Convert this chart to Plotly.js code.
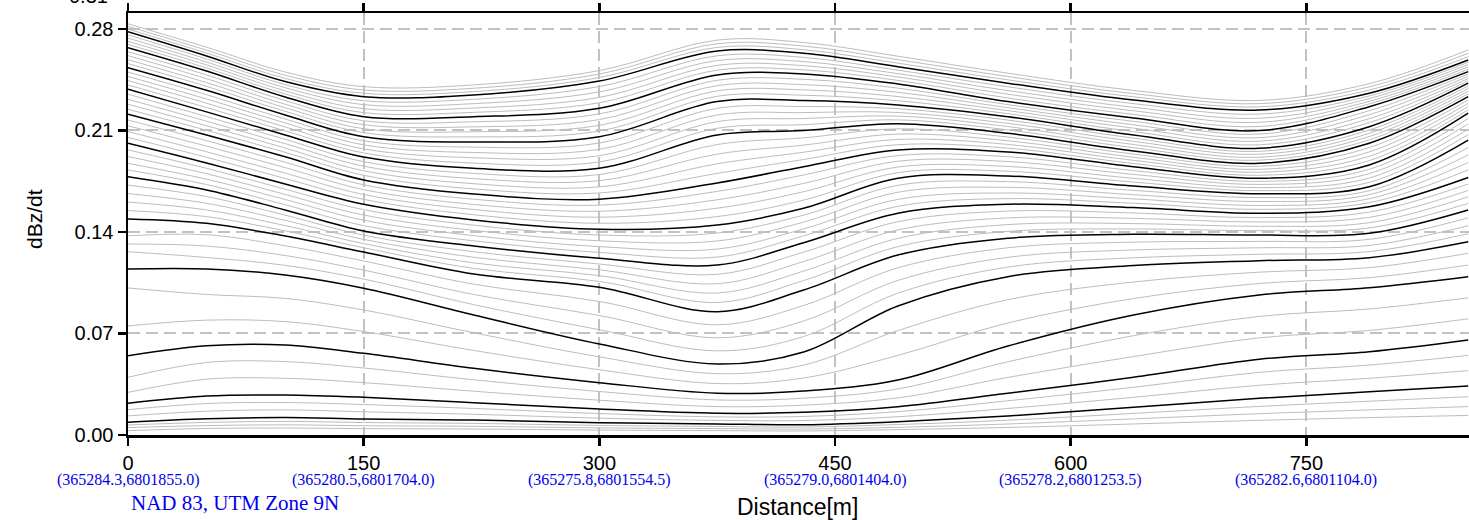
<!DOCTYPE html>
<html><head><meta charset="utf-8">
<script src="https://cdn.plot.ly/plotly-3.0.1.min.js"></script>
<style>html,body{margin:0;padding:0;background:#fff;} #chart{width:1469px;height:520px;}</style>
</head><body><div id="chart"></div>
<script>
// distance along the line [m]
const distance = [0, 50, 100, 150, 220, 300, 375, 430, 490, 560, 640, 720, 790, 853];

// x tick values and UTM coordinate labels
const xTicks = [0, 150, 300, 450, 600, 750];
const xTickText = ['0', '150', '300', '450', '600', '750'];
const utmLabels = ['(365284.3,6801855.0)', '(365280.5,6801704.0)', '(365275.8,6801554.5)',
                   '(365279.0,6801404.0)', '(365278.2,6801253.5)', '(365282.6,6801104.0)'];
const yTicks = [0, 0.07, 0.14, 0.21, 0.28];
const yTickText = ['0.00', '0.07', '0.14', '0.21', '0.28'];

// black (marker) channels, dBz/dt
const b01 = [0.2781, 0.2614, 0.2437, 0.2333, 0.2345, 0.2441, 0.2648, 0.2632, 0.2540, 0.2426, 0.2310, 0.2241, 0.2357, 0.2586];
const b02 = [0.2671, 0.2510, 0.2331, 0.2195, 0.2195, 0.2253, 0.2483, 0.2490, 0.2421, 0.2299, 0.2186, 0.2099, 0.2264, 0.2506];
const b03 = [0.2533, 0.2377, 0.2207, 0.2057, 0.2021, 0.2057, 0.2299, 0.2306, 0.2276, 0.2195, 0.2069, 0.1977, 0.2126, 0.2426];
const b04 = [0.2384, 0.2228, 0.2069, 0.1917, 0.1839, 0.1839, 0.2069, 0.2099, 0.2147, 0.2081, 0.1959, 0.1874, 0.2012, 0.2333];
const b05 = [0.2212, 0.2069, 0.1919, 0.1759, 0.1662, 0.1626, 0.1738, 0.1850, 0.1966, 0.1952, 0.1850, 0.1770, 0.1862, 0.2219];
const b06 = [0.2012, 0.1876, 0.1731, 0.1591, 0.1483, 0.1419, 0.1448, 0.1563, 0.1770, 0.1786, 0.1717, 0.1664, 0.1712, 0.2034];
const b07 = [0.1781, 0.1690, 0.1552, 0.1407, 0.1303, 0.1219, 0.1172, 0.1326, 0.1529, 0.1591, 0.1568, 0.1529, 0.1574, 0.1776];
const b08 = [0.1490, 0.1460, 0.1372, 0.1262, 0.1110, 0.1019, 0.0850, 0.1000, 0.1241, 0.1357, 0.1384, 0.1379, 0.1391, 0.1552];
const b09 = [0.1145, 0.1145, 0.1103, 0.1012, 0.0828, 0.0628, 0.0490, 0.0572, 0.0890, 0.1092, 0.1168, 0.1202, 0.1223, 0.1333];
const b10 = [0.0547, 0.0616, 0.0621, 0.0563, 0.0460, 0.0361, 0.0288, 0.0303, 0.0379, 0.0614, 0.0828, 0.0966, 0.1016, 0.1092];
const b11 = [0.0219, 0.0269, 0.0276, 0.0260, 0.0223, 0.0179, 0.0150, 0.0157, 0.0195, 0.0288, 0.0398, 0.0522, 0.0574, 0.0655];
const b12 = [0.0088, 0.0112, 0.0121, 0.0110, 0.0103, 0.0085, 0.0076, 0.0071, 0.0092, 0.0131, 0.0191, 0.0253, 0.0299, 0.0338];

// grey channels, top to bottom
const t1 = [0.2835, 0.2674, 0.2503, 0.2402, 0.2414, 0.2513, 0.2723, 0.2707, 0.2612, 0.2495, 0.2376, 0.2307, 0.2423, 0.2655];
const t2 = [0.2817, 0.2654, 0.2481, 0.2379, 0.2391, 0.2489, 0.2698, 0.2682, 0.2588, 0.2472, 0.2354, 0.2285, 0.2401, 0.2632];
const t3 = [0.2799, 0.2634, 0.2459, 0.2356, 0.2368, 0.2465, 0.2673, 0.2657, 0.2564, 0.2449, 0.2332, 0.2263, 0.2379, 0.2609];
const g1a = [0.2759, 0.2593, 0.2416, 0.2305, 0.2315, 0.2403, 0.2615, 0.2604, 0.2516, 0.2401, 0.2285, 0.2213, 0.2338, 0.2570];
const g1b = [0.2737, 0.2572, 0.2395, 0.2278, 0.2285, 0.2366, 0.2582, 0.2575, 0.2492, 0.2375, 0.2260, 0.2184, 0.2320, 0.2554];
const g1c = [0.2715, 0.2552, 0.2373, 0.2250, 0.2255, 0.2328, 0.2549, 0.2547, 0.2469, 0.2350, 0.2236, 0.2156, 0.2301, 0.2538];
const g1d = [0.2693, 0.2531, 0.2352, 0.2223, 0.2225, 0.2291, 0.2516, 0.2518, 0.2445, 0.2324, 0.2211, 0.2127, 0.2283, 0.2522];
const g2a = [0.2643, 0.2483, 0.2306, 0.2167, 0.2160, 0.2214, 0.2446, 0.2453, 0.2392, 0.2278, 0.2163, 0.2075, 0.2236, 0.2490];
const g2b = [0.2616, 0.2457, 0.2281, 0.2140, 0.2125, 0.2175, 0.2409, 0.2416, 0.2363, 0.2257, 0.2139, 0.2050, 0.2209, 0.2474];
const g2c = [0.2588, 0.2430, 0.2257, 0.2112, 0.2091, 0.2135, 0.2373, 0.2380, 0.2334, 0.2237, 0.2116, 0.2026, 0.2181, 0.2458];
const g2d = [0.2561, 0.2404, 0.2232, 0.2085, 0.2056, 0.2096, 0.2336, 0.2343, 0.2305, 0.2216, 0.2092, 0.2001, 0.2154, 0.2442];
const g3a = [0.2503, 0.2347, 0.2179, 0.2029, 0.1985, 0.2013, 0.2253, 0.2265, 0.2250, 0.2172, 0.2047, 0.1956, 0.2103, 0.2407];
const g3b = [0.2473, 0.2317, 0.2152, 0.2001, 0.1948, 0.1970, 0.2207, 0.2223, 0.2224, 0.2149, 0.2025, 0.1936, 0.2080, 0.2389];
const g3c = [0.2444, 0.2288, 0.2124, 0.1973, 0.1912, 0.1926, 0.2161, 0.2182, 0.2199, 0.2127, 0.2003, 0.1915, 0.2058, 0.2370];
const g3d = [0.2414, 0.2258, 0.2097, 0.1945, 0.1875, 0.1883, 0.2115, 0.2140, 0.2173, 0.2104, 0.1981, 0.1895, 0.2035, 0.2352];
const g4a = [0.2350, 0.2196, 0.2039, 0.1885, 0.1804, 0.1796, 0.2003, 0.2049, 0.2111, 0.2055, 0.1937, 0.1853, 0.1982, 0.2310];
const g4b = [0.2315, 0.2164, 0.2009, 0.1854, 0.1768, 0.1754, 0.1937, 0.1999, 0.2075, 0.2029, 0.1915, 0.1832, 0.1952, 0.2287];
const g4c = [0.2281, 0.2133, 0.1979, 0.1822, 0.1733, 0.1711, 0.1870, 0.1950, 0.2038, 0.2004, 0.1894, 0.1812, 0.1922, 0.2265];
const g4d = [0.2246, 0.2101, 0.1949, 0.1791, 0.1697, 0.1669, 0.1804, 0.1900, 0.2002, 0.1978, 0.1872, 0.1791, 0.1892, 0.2242];
const g5a = [0.2172, 0.2030, 0.1881, 0.1725, 0.1626, 0.1585, 0.1680, 0.1793, 0.1927, 0.1919, 0.1823, 0.1749, 0.1832, 0.2182];
const g5b = [0.2132, 0.1992, 0.1844, 0.1692, 0.1590, 0.1543, 0.1622, 0.1735, 0.1888, 0.1886, 0.1797, 0.1728, 0.1802, 0.2145];
const g5c = [0.2092, 0.1953, 0.1806, 0.1658, 0.1555, 0.1502, 0.1564, 0.1678, 0.1848, 0.1852, 0.1770, 0.1706, 0.1772, 0.2108];
const g5d = [0.2052, 0.1915, 0.1769, 0.1625, 0.1519, 0.1460, 0.1506, 0.1620, 0.1809, 0.1819, 0.1744, 0.1685, 0.1742, 0.2071];
const g6a = [0.1966, 0.1839, 0.1695, 0.1554, 0.1447, 0.1379, 0.1393, 0.1516, 0.1722, 0.1747, 0.1687, 0.1637, 0.1684, 0.1982];
const g6b = [0.1920, 0.1802, 0.1659, 0.1517, 0.1411, 0.1339, 0.1338, 0.1468, 0.1674, 0.1708, 0.1657, 0.1610, 0.1657, 0.1931];
const g6c = [0.1873, 0.1764, 0.1624, 0.1481, 0.1375, 0.1299, 0.1282, 0.1421, 0.1625, 0.1669, 0.1628, 0.1583, 0.1629, 0.1879];
const g6d = [0.1827, 0.1727, 0.1588, 0.1444, 0.1339, 0.1259, 0.1227, 0.1373, 0.1577, 0.1630, 0.1598, 0.1556, 0.1602, 0.1828];
const g7a = [0.1723, 0.1644, 0.1516, 0.1378, 0.1264, 0.1179, 0.1108, 0.1261, 0.1471, 0.1544, 0.1531, 0.1499, 0.1537, 0.1731];
const g7b = [0.1665, 0.1598, 0.1480, 0.1349, 0.1226, 0.1139, 0.1043, 0.1196, 0.1414, 0.1497, 0.1494, 0.1469, 0.1501, 0.1686];
const g7c = [0.1606, 0.1552, 0.1444, 0.1320, 0.1187, 0.1099, 0.0979, 0.1130, 0.1356, 0.1451, 0.1458, 0.1439, 0.1464, 0.1642];
const g7d = [0.1548, 0.1506, 0.1408, 0.1291, 0.1149, 0.1059, 0.0914, 0.1065, 0.1299, 0.1404, 0.1421, 0.1409, 0.1428, 0.1597];
const g8a = [0.1374, 0.1381, 0.1305, 0.1200, 0.1040, 0.0921, 0.0760, 0.0893, 0.1153, 0.1291, 0.1330, 0.1335, 0.1349, 0.1497];
const g8b = [0.1317, 0.1303, 0.1238, 0.1137, 0.0969, 0.0824, 0.0670, 0.0786, 0.1066, 0.1225, 0.1276, 0.1291, 0.1307, 0.1443];
const g8c = [0.1264, 0.1224, 0.1170, 0.1075, 0.0899, 0.0726, 0.0580, 0.0679, 0.0978, 0.1158, 0.1222, 0.1246, 0.1265, 0.1388];
const g9a = [0.1014, 0.0969, 0.0942, 0.0862, 0.0705, 0.0539, 0.0423, 0.0482, 0.0720, 0.0933, 0.1055, 0.1123, 0.1154, 0.1253];
const g9b = [0.0752, 0.0792, 0.0782, 0.0713, 0.0583, 0.0450, 0.0355, 0.0393, 0.0549, 0.0773, 0.0941, 0.1045, 0.1085, 0.1172];
const g10a = [0.0398, 0.0500, 0.0506, 0.0462, 0.0381, 0.0300, 0.0242, 0.0254, 0.0318, 0.0505, 0.0685, 0.0818, 0.0869, 0.0946];
const g10b = [0.0294, 0.0385, 0.0391, 0.0361, 0.0302, 0.0240, 0.0196, 0.0206, 0.0256, 0.0397, 0.0541, 0.0670, 0.0721, 0.0801];
const g11a = [0.0175, 0.0217, 0.0224, 0.0210, 0.0183, 0.0148, 0.0125, 0.0128, 0.0161, 0.0236, 0.0329, 0.0432, 0.0482, 0.0549];
const g11b = [0.0132, 0.0164, 0.0173, 0.0160, 0.0143, 0.0116, 0.0101, 0.0100, 0.0126, 0.0183, 0.0260, 0.0343, 0.0391, 0.0444];
const l1 = [0.0069, 0.0087, 0.0094, 0.0086, 0.0080, 0.0066, 0.0059, 0.0055, 0.0072, 0.0102, 0.0149, 0.0197, 0.0233, 0.0264];
const l2 = [0.0051, 0.0065, 0.0070, 0.0064, 0.0060, 0.0049, 0.0044, 0.0041, 0.0053, 0.0076, 0.0111, 0.0147, 0.0173, 0.0196];
const l3 = [0.0030, 0.0045, 0.0048, 0.0044, 0.0041, 0.0034, 0.0030, 0.0028, 0.0037, 0.0052, 0.0076, 0.0101, 0.0120, 0.0135];

const blackSeries = [b01, b02, b03, b04, b05, b06, b07, b08, b09, b10, b11, b12];
const greySeries = [t1, t2, t3, g1a, g1b, g1c, g1d, g2a, g2b, g2c, g2d, g3a, g3b, g3c, g3d,
  g4a, g4b, g4c, g4d, g5a, g5b, g5c, g5d, g6a, g6b, g6c, g6d, g7a, g7b, g7c, g7d,
  g8a, g8b, g8c, g9a, g9b, g10a, g10b, g11a, g11b, l1, l2, l3];

const traces = [];
greySeries.forEach(function (ys) {
  traces.push({x: distance, y: ys, type: 'scatter', mode: 'lines', hoverinfo: 'skip',
    line: {color: '#bdbdbd', width: 1, shape: 'spline', smoothing: 1}});
});
blackSeries.forEach(function (ys) {
  traces.push({x: distance, y: ys, type: 'scatter', mode: 'lines', hoverinfo: 'skip',
    line: {color: '#000000', width: 1.5, shape: 'spline', smoothing: 1}});
});

const blue = '#0000ee';
const annotations = xTicks.map(function (v, i) {
  return {x: v, xref: 'x', y: -0.1066, yref: 'paper', text: utmLabels[i], showarrow: false,
    xanchor: 'center', yanchor: 'middle', font: {family: 'Liberation Serif, Times New Roman, serif', size: 16, color: blue}};
});
annotations.push({x: 0.0798, xref: 'paper', y: -0.1611, yref: 'paper', text: 'NAD 83, UTM Zone 9N', showarrow: false,
  xanchor: 'center', yanchor: 'middle', font: {family: 'Liberation Serif, Times New Roman, serif', size: 21, color: blue}});
annotations.push({x: 0.4996, xref: 'paper', y: -0.1706, yref: 'paper', text: 'Distance[m]', showarrow: false,
  xanchor: 'center', yanchor: 'middle', font: {family: 'Liberation Sans, Arial, sans-serif', size: 23, color: '#000'}});
annotations.push({x: -0.0701, xref: 'paper', y: 0.5118, yref: 'paper', text: 'dBz/dt', showarrow: false, textangle: -90,
  xanchor: 'center', yanchor: 'middle', font: {family: 'Liberation Sans, Arial, sans-serif', size: 21, color: '#000'}});
annotations.push({x: -0.0134, xref: 'paper', y: 1.0403, yref: 'paper', text: '0.31', showarrow: false,
  xanchor: 'right', yanchor: 'middle', font: {family: 'Liberation Sans, Arial, sans-serif', size: 20, color: '#000'}});

const layout = {
  width: 1469, height: 520,
  margin: {l: 128, r: 0, t: 13, b: 85, pad: 0},
  paper_bgcolor: '#ffffff', plot_bgcolor: '#ffffff',
  showlegend: false,
  font: {family: 'Liberation Sans, Arial, sans-serif', size: 20, color: '#000'},
  xaxis: {
    range: [0, 853.5], tickvals: xTicks, ticktext: xTickText,
    showline: true, linecolor: '#000', linewidth: 2.5, mirror: 'ticks',
    ticks: 'outside', ticklen: 8, tickwidth: 2.5, tickcolor: '#000',
    showgrid: true, gridcolor: '#c2c2c2', gridwidth: 2, griddash: '12px,6px',
    zeroline: false, tickfont: {size: 20}
  },
  yaxis: {
    range: [0, 0.291], tickvals: yTicks, ticktext: yTickText,
    showline: true, linecolor: '#000', linewidth: 2.5, mirror: false,
    ticks: 'outside', ticklen: 8, tickwidth: 2.5, tickcolor: '#000',
    showgrid: true, gridcolor: '#c2c2c2', gridwidth: 2, griddash: '12px,6px',
    zeroline: false, tickfont: {size: 20}
  },
  annotations: annotations
};

Plotly.newPlot('chart', traces, layout, {staticPlot: true, displayModeBar: false});
</script>
</body></html>
